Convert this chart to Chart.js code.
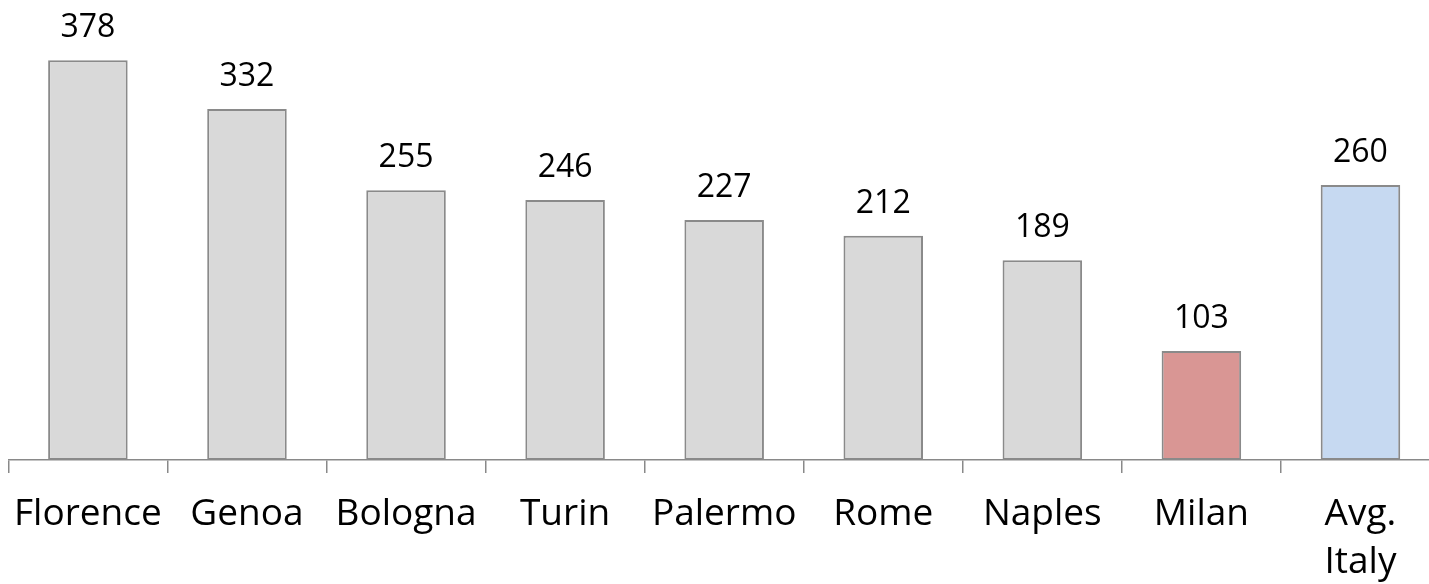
<!DOCTYPE html>
<html>
<head>
<meta charset="utf-8">
<script src="https://cdn.jsdelivr.net/npm/chart.js@4"></script>
<style>
  html, body { margin: 0; padding: 0; background: #fff; overflow: hidden; }
  #wrap { width: 1443px; height: 604px; margin-left: -3px; }
</style>
</head>
<body>
<div id="wrap"><canvas id="myChart"></canvas></div>
<script>
const cities = ["Florence", "Genoa", "Bologna", "Turin", "Palermo", "Rome", "Naples", "Milan", ["Avg.", "Italy"]];
const values = [378, 332, 255, 246, 227, 212, 189, 103, 260];
const barColors = ["#d9d9d9", "#d9d9d9", "#d9d9d9", "#d9d9d9", "#d9d9d9", "#d9d9d9", "#d9d9d9", "#d99694", "#c6d9f1"];

const valueLabels = {
  id: "valueLabels",
  afterDatasetsDraw(chart) {
    const ctx = chart.ctx;
    ctx.save();
    ctx.font = "32px 'Open Sans'";
    ctx.fillStyle = "#000";
    ctx.textAlign = "center";
    ctx.textBaseline = "alphabetic";
    chart.getDatasetMeta(0).data.forEach((bar, i) => {
      ctx.fillText(values[i], bar.x, bar.y - 23);
    });
    ctx.restore();
  }
};

const ctx = document.getElementById("myChart").getContext("2d");
new Chart(ctx, {
  type: "bar",
  data: {
    labels: cities,
    datasets: [
      {
        data: values,
        backgroundColor: barColors,
        borderColor: "#8a8a8a",
        borderWidth: 2,
        borderSkipped: false,
        categoryPercentage: 1,
        barPercentage: 0.5,
      },
    ],
  },
  options: {
    responsive: true,
    maintainAspectRatio: false,
    animation: false,
    layout: { padding: { top: 37, left: 0, right: 0, bottom: 0 } },
    plugins: { legend: { display: false }, tooltip: { enabled: false } },
    scales: {
      y: { display: false, min: 0, max: 400 },
      x: {
        border: { display: true, color: "#898989", width: 1.5 },
        grid: { offset: true, drawOnChartArea: false, drawTicks: true, tickLength: 13, color: "#898989", lineWidth: 1.5 },
        ticks: {
          color: "#000",
          font: { family: "'Open Sans'", size: 37, lineHeight: 1.31 },
          padding: 17,
          maxRotation: 0,
          autoSkip: false,
        },
      },
    },
  },
  plugins: [valueLabels],
});
</script>
</body>
</html>
